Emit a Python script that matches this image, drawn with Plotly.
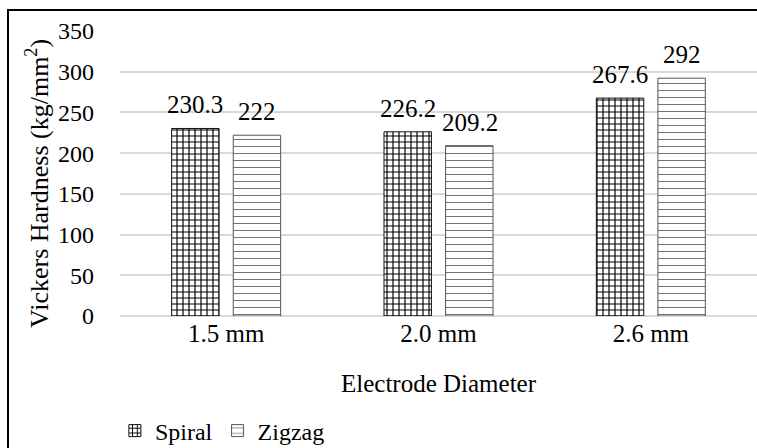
import plotly.graph_objects as go

categories = ["1.5 mm", "2.0 mm", "2.6 mm"]
spiral = [230.3, 226.2, 267.6]
zigzag = [222, 209.2, 292]
spiral_labels = ["230.3", "226.2", "267.6"]
zigzag_labels = ["222", "209.2", "292"]
y_ticks = [0, 50, 100, 150, 200, 250, 300, 350]

FONT = "Liberation Serif"
W, H = 757, 448
L, R, T, B = 120, 0, 31, 132
pw, ph = W - L - R, H - T - B

fig = go.Figure()
fig.add_trace(go.Bar(
    name="Spiral", x=categories, y=spiral,
    marker=dict(color="white", line=dict(color="#111111", width=1),
                pattern=dict(shape="+", fgcolor="#000000", bgcolor="white",
                             size=6, solidity=0.35)),
))
fig.add_trace(go.Bar(
    name="Zigzag", x=categories, y=zigzag,
    marker=dict(color="white", line=dict(color="#555555", width=1),
                pattern=dict(shape="-", fgcolor="#666666", bgcolor="white",
                             size=7, solidity=0.13)),
))

# data labels
for vals, labs, shift in [(spiral, spiral_labels, -31), (zigzag, zigzag_labels, 31)]:
    for c, v, t in zip(categories, vals, labs):
        fig.add_annotation(x=c, y=v, text=t, showarrow=False, xshift=shift,
                           yanchor="bottom", yshift=8,
                           font=dict(family=FONT, size=25, color="black"))

# y-axis title
fig.add_annotation(xref="paper", yref="paper", x=(37 - L) / pw, y=(T + ph - 184) / ph,
                   text="Vickers Hardness (kg/mm<sup>2</sup>)", textangle=-90,
                   showarrow=False, xanchor="center", yanchor="middle",
                   font=dict(family=FONT, size=26, color="black"))

# outer frame (cropped)
fig.add_shape(type="rect", xref="paper", yref="paper",
              x0=(8 - L) / pw, x1=1.2, y0=-0.6, y1=(T + ph - 10) / ph,
              line=dict(color="#000000", width=2), fillcolor="rgba(0,0,0,0)",
              layer="below")

fig.update_layout(
    template="none",
    width=W, height=H,
    margin=dict(l=L, r=R, t=T, b=B, autoexpand=False),
    paper_bgcolor="white", plot_bgcolor="white",
    barmode="group", bargap=0.42, bargroupgap=0.23,
    font=dict(family=FONT, size=25, color="black"),
    showlegend=True,
    legend=dict(orientation="h", x=-0.008, xanchor="left", y=(T + ph - 431) / ph,
                yanchor="middle", font=dict(family=FONT, size=24, color="black"),
                itemwidth=30, tracegroupgap=0, bgcolor="rgba(0,0,0,0)"),
    xaxis=dict(range=[-0.5, 2.5], showgrid=False, showline=False, ticks="",
               tickfont=dict(family=FONT, size=25, color="black"),
               title=dict(text="Electrode Diameter", standoff=28,
                          font=dict(family=FONT, size=25, color="black"))),
    yaxis=dict(range=[0, 350], tickvals=y_ticks, showgrid=True,
               gridcolor="#d9d9d9", gridwidth=1.5, zeroline=True,
               zerolinecolor="#d9d9d9", zerolinewidth=1.5, showline=False,
               ticks="", ticklabelstandoff=25,
               tickfont=dict(family=FONT, size=24, color="black")),
)

fig.write_html("out.html")
